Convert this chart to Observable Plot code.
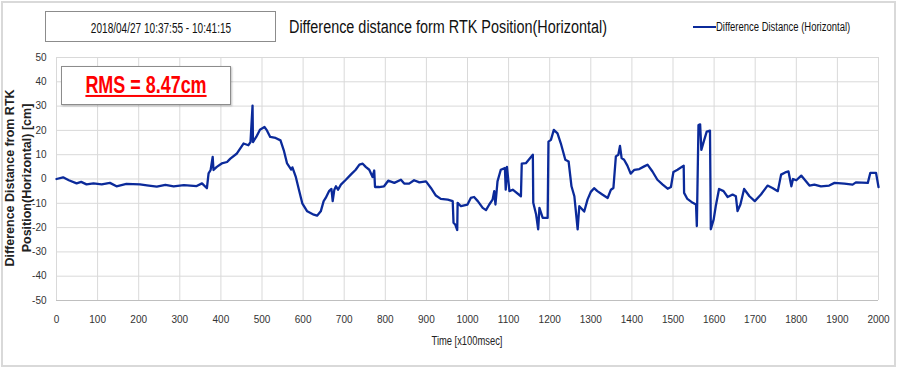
<!DOCTYPE html>
<html>
<head>
<meta charset="utf-8">
<script src="https://cdn.jsdelivr.net/npm/d3@7"></script>
<script src="https://cdn.jsdelivr.net/npm/@observablehq/plot@0.6"></script>
<style>
  html, body { margin: 0; padding: 0; background: #fff; }
  #wrap { position: relative; width: 900px; height: 370px; overflow: hidden; font-family: "Liberation Sans", Arial, sans-serif; }
  #frame { position: absolute; left: 1px; top: 1px; width: 895px; height: 366px; border: 2px solid #d9d9d9; box-sizing: border-box; }
  #datebox { position: absolute; left: 45px; top: 11px; width: 231px; height: 31px; border: 1.5px solid #8c8c8c; box-sizing: border-box; }
  #datebox span { position: absolute; left: 50%; top: 50%; transform: translate(-50%, -50%) scaleX(0.67); font-size: 15px; color: #111; white-space: nowrap; }
  #title { position: absolute; left: 289px; top: 16px; font-size: 18px; line-height: 22px; color: #111; white-space: nowrap; transform: scaleX(0.80); transform-origin: 0 0; }
  #legend { position: absolute; left: 693px; top: 20px; color: #111; white-space: nowrap; display: flex; align-items: center; height: 14px; }
  #legend span.sw { display: inline-block; width: 23px; height: 2.5px; background: #0b2a9a; }
  #legtext { display: inline-block; font-size: 12px; transform: scaleX(0.79); transform-origin: 0 50%; }
  #rms { position: absolute; left: 61px; top: 66px; width: 170px; height: 39px; border: 1.5px solid #8c8c8c; box-sizing: border-box;
    box-shadow: 1px 1px 2px rgba(0,0,0,0.25); background: #fff; }
  #rms u { position: absolute; left: 50%; top: 50%; transform: translate(-50%, -52%) scaleX(0.78); white-space: nowrap;
    font-weight: bold; font-size: 23px; color: #ff0000; text-decoration-thickness: 2px; text-underline-offset: 2px; }
  #ylab { position: absolute; left: 19px; top: 178px; width: 260px; transform: translate(-50%, -50%) rotate(-90deg);
    text-align: center; font-weight: bold; font-size: 12.5px; color: #222; line-height: 17px; }
  #xlab { position: absolute; left: 467px; top: 334px; transform: translateX(-50%) scaleX(0.78); font-size: 12px; color: #222; white-space: nowrap; }
  #chart { position: absolute; left: 0; top: 0; }
</style>
</head>
<body>
<div id="wrap">
  <div id="chart"></div>
  <div id="frame"></div>
  <div id="datebox"><span id="datetext"></span></div>
  <div id="title"></div>
  <div id="legend"><span class="sw"></span><span id="legtext"></span></div>
  <div id="rms"><u id="rmstext"></u></div>
  <div id="ylab"></div>
  <div id="xlab"></div>
</div>
<script>
const dateRange = "2018/04/27 10:37:55 - 10:41:15";
const chartTitle = "Difference distance form RTK Position(Horizontal)";
const seriesName = "Difference Distance (Horizontal)";
const rmsLabel = "RMS = 8.47cm";
const yTitleLines = ["Difference Distance from RTK", "Position(Horizontal) [cm]"];
const xTitle = "Time [x100msec]";
const xTicks = d3.range(0, 2001, 100);
const yTicks = d3.range(-50, 51, 10);

// time [x100msec]
const time = [
  0,16,30,49,60,73,90,110,130,146,
  170,203,220,244,265,285,310,341,354,366,
  370,375,380,382,390,402,415,423,439,455,
  467,472,477,478,486,495,506,512,520,533,
  545,553,561,571,574,582,590,598,610,626,
  634,643,650,655,663,669,672,676,680,685,
  692,704,716,728,737,745,753,761,769,773,
  775,785,797,807,822,838,846,858,870,883,
  899,911,923,935,952,964,966,970,975,976,
  984,1000,1008,1016,1025,1037,1045,1053,1061,1065,
  1068,1073,1081,1091,1093,1096,1102,1110,1130,1132,
  1142,1159,1160,1167,1172,1175,1183,1195,1197,1203,
  1210,1219,1227,1238,1246,1253,1260,1268,1272,1284,
  1292,1300,1308,1316,1328,1341,1349,1355,1361,1367,
  1371,1375,1381,1389,1397,1406,1418,1430,1438,1450,
  1462,1475,1487,1495,1501,1511,1526,1527,1535,1548,
  1556,1558,1562,1566,1569,1576,1582,1590,1592,1599,
  1604,1612,1623,1633,1645,1653,1657,1664,1673,1686,
  1699,1714,1730,1742,1755,1763,1773,1781,1788,1792,
  1800,1812,1824,1832,1844,1860,1880,1893,1917,1937,
  1945,1974,1980,1994,2000
];
// difference distance [cm]
const diff = [
  0,0.7,-0.5,-1.8,-1.2,-2.2,-1.8,-2.2,-1.6,-3,
  -2,-2.2,-2.6,-3.1,-2.4,-3,-2.5,-2.9,-1.8,-3.8,
  2.3,3.7,9.1,3.7,5,6.4,7,8.4,10.5,14.6,
  13.9,15.2,30.2,15.2,17.3,20.3,21.4,20,17.3,16.9,
  15.9,11.8,6.4,3.9,4.8,1,-4.5,-10,-13.3,-14.7,
  -15.1,-13.3,-9.1,-7.8,-5,-4.1,-9.1,-4.4,-3,-4.4,
  -2.3,-0.3,1.8,3.8,5.9,6.3,4.9,3.8,0.8,3.5,
  -3.3,-3.3,-3,-0.7,-1.6,-0.3,-1.9,-1.9,-0.5,-1.4,
  -1,-3.7,-6.8,-8.2,-8.5,-9.1,-18,-18.7,-21,-9.8,
  -11.2,-10.5,-7.8,-7.4,-9.1,-11.9,-12.8,-10.5,-8.5,-5,
  -10.5,-1,3.8,4.5,-4.4,5,-5,-4.4,-7.1,6.3,
  6.5,10,-9.8,-14.6,-20.7,-11.9,-16,-16,15.4,16.1,
  20.2,18.8,14.7,7.9,7.2,-3,-7.1,-20.7,-11.2,-13.4,
  -8.5,-5.3,-3.8,-5,-6.4,-7.8,-4.4,-3.7,9.3,10,
  13.6,8.6,7.9,5.5,2.2,3.8,4.1,5.2,5.9,3.1,
  -0.3,-2.3,-4,-3.3,2.9,3.8,5.5,-5.7,-8.2,-9.8,
  -10.5,-19.4,22.2,22.5,12,16.1,19.5,19.9,-20.7,-16.6,
  -11.2,-4.1,-5,-7.4,-6.4,-7.1,-13.2,-10.5,-4.1,-7.1,
  -9.1,-6.4,-2.7,-3.7,-5,1.8,2.7,3.1,-3,0,
  -0.5,1.4,-1,-2.7,-2.3,-3,-2.7,-1.6,-1.9,-2.3,
  -1.4,-1.6,2.5,2.5,-3.3
];

const data = time.map((t, i) => ({t, v: diff[i]}));

document.getElementById("datetext").textContent = dateRange;
document.getElementById("title").textContent = chartTitle;
document.getElementById("legtext").textContent = seriesName;
document.getElementById("rmstext").textContent = rmsLabel;
document.getElementById("ylab").innerHTML = yTitleLines.join("<br>");
document.getElementById("xlab").textContent = xTitle;

const plot = Plot.plot({
  width: 900,
  height: 370,
  marginLeft: 56,
  marginRight: 22,
  marginTop: 57,
  marginBottom: 70,
  style: {fontFamily: "'Liberation Sans', Arial, sans-serif", fontSize: "10px", color: "#333", background: "transparent"},
  x: {domain: [0, 2000], ticks: xTicks, tickFormat: d => String(d), tickSize: 0, tickPadding: 15, label: null},
  y: {domain: [-50, 50], ticks: yTicks, tickFormat: d => String(d), tickSize: 0, tickPadding: 10, label: null},
  marks: [
    Plot.gridX(xTicks, {stroke: "#d9d9d9", strokeOpacity: 1, strokeWidth: 1}),
    Plot.gridY(yTicks, {stroke: "#d9d9d9", strokeOpacity: 1, strokeWidth: 1}),
    Plot.ruleY([-50], {stroke: "#bfbfbf"}),
    Plot.line(data, {x: "t", y: "v", stroke: "#0b2a9a", strokeWidth: 2.3, strokeLinejoin: "round"})
  ]
});
document.getElementById("chart").appendChild(plot);
</script>
</body>
</html>
